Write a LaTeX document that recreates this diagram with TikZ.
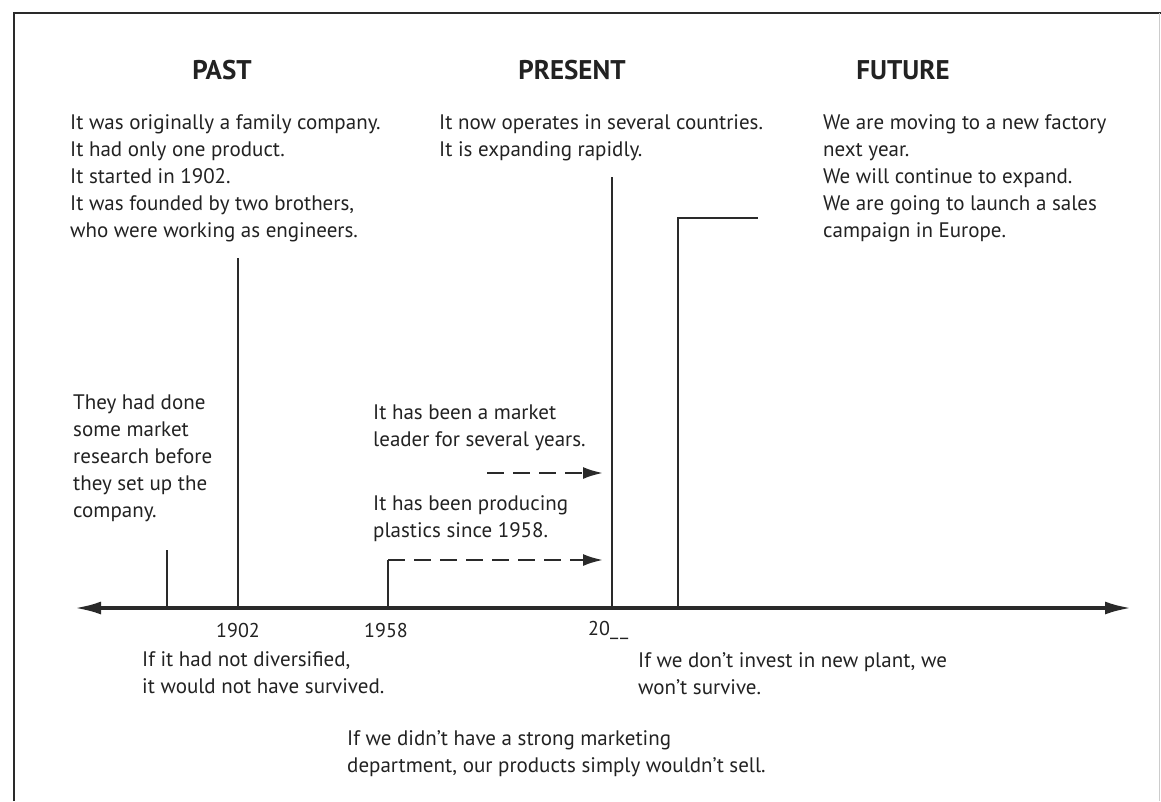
\documentclass[tikz,border=0pt]{standalone}
\usepackage{fontspec}
\setmainfont{PT Sans}
\usetikzlibrary{arrows.meta}
\definecolor{ink}{HTML}{222222}
\definecolor{lineink}{HTML}{2A2A2A}
\tikzset{
  body/.style={anchor=north west,inner sep=0pt,align=left,text=ink,font=\fontsize{21}{27}\selectfont},
  head/.style={anchor=base,inner sep=0pt,text=ink,font=\fontsize{27}{30}\selectfont\bfseries},
  year/.style={inner sep=0pt,text=ink,font=\fontsize{20}{23}\selectfont},
  tick/.style={draw=lineink,line width=2.4pt},
  axis/.style={draw=lineink,line width=3.2pt,{Latex[length=26pt,width=13pt]}-{Latex[length=26pt,width=13pt]}},
  dasharrow/.style={draw=lineink,line width=2.4pt,dash pattern=on 17pt off 9pt,-{Latex[length=20pt,width=12pt]}},
  frame/.style={draw=lineink,line width=2.5pt}
}
\begin{document}
\begin{tikzpicture}[x=1pt,y=-1pt]
\useasboundingbox (0,0) rectangle (1161,801);
\fill[white] (0,0) rectangle (1161,801);
% frame
\coordinate (fbl) at (14,801);
\coordinate (ftl) at (14,13);
\coordinate (ftr) at (1161,13);
\draw[frame] (fbl) -- (ftl) -- (ftr);
\draw[draw=gray!40,line width=1pt] (1159,13) -- (1159,801);
% headings
\node[head] (past) at (222,79) {PAST};
\node[head] (present) at (572,79) {PRESENT};
\node[head] (future) at (903,79) {FUTURE};
% top texts
\node[body] (pasttxt) at (70,114) {It was originally a family company.\\It had only one product.\\It started in 1902.\\It was founded by two brothers,\\who were working as engineers.};
\node[body] (prestxt) at (439,114) {It now operates in several countries.\\It is expanding rapidly.};
\node[body] (futtxt) at (823,114) {We are moving to a new factory\\next year.\\We will continue to expand.\\We are going to launch a sales\\campaign in Europe.};
% middle texts
\node[body] (research) at (73,395) {They had done\\some market\\research before\\they set up the\\company.};
\node[body] (leader) at (373,405) {It has been a market\\leader for several years.};
\node[body] (plastics) at (373,495) {It has been producing\\plastics since 1958.};
% axis
\coordinate (axL) at (75,608);
\coordinate (axR) at (1131,608);
\draw[axis] (axL) -- (axR);
% ticks
\coordinate (t0b) at (167,608); \coordinate (t0t) at (167,550);
\coordinate (t1b) at (238,608); \coordinate (t1t) at (238,258);
\coordinate (t2b) at (388,608); \coordinate (t2t) at (388,560);
\coordinate (t3b) at (612,608); \coordinate (t3t) at (612,177);
\coordinate (t4b) at (678,608); \coordinate (t4t) at (678,218);
\coordinate (t4e) at (758,218);
\draw[tick] (t0b) -- (t0t);
\draw[tick] (t1b) -- (t1t);
\draw[tick] (t3b) -- (t3t);
\draw[tick] (t4b) -- (t4t) -- (t4e);
\draw[tick] (t2b) -- (t2t);
% dashed arrows
\coordinate (d1s) at (487,473); \coordinate (d1e) at (603,473);
\coordinate (d2e) at (603,560);
\draw[dasharrow] (d1s) -- (d1e);
\draw[dasharrow] (t2t) -- (d2e);
% years
\node[year] (y1902) at (238,630) {1902};
\node[year] (y1958) at (386,630) {1958};
\node[year,anchor=west] (y20) at (588,630) {20\_\kern2pt\_};
% bottom texts
\node[body] (divers) at (142,651) {If it had not diversified,\\it would not have survived.};
\node[body] (invest) at (638,652) {If we don't invest in new plant, we\\won't survive.};
\node[body] (market) at (347,730) {If we didn't have a strong marketing\\department, our products simply wouldn't sell.};
\end{tikzpicture}
\end{document}
